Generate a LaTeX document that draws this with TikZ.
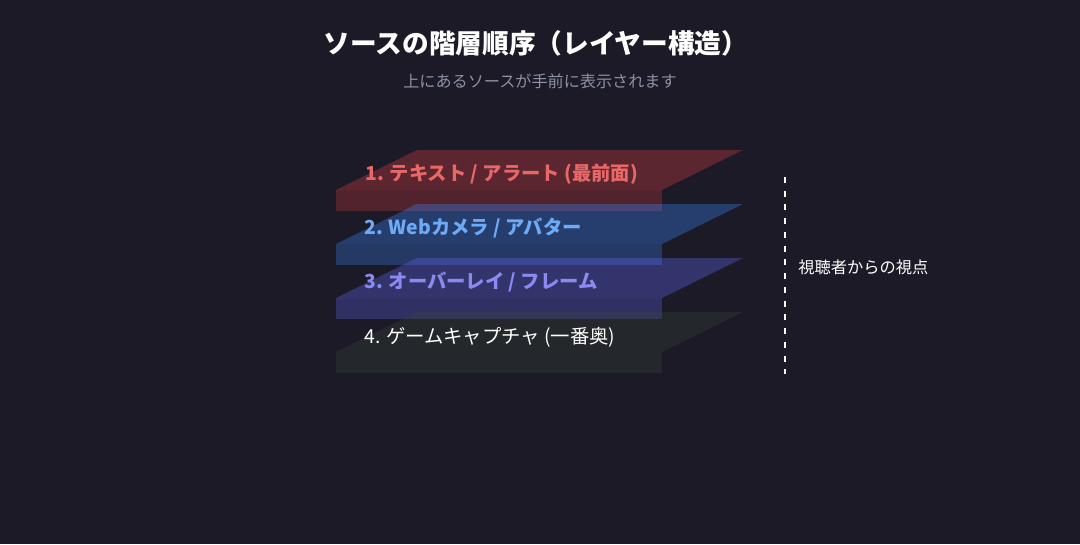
\documentclass[tikz,border=0pt]{standalone}
\usepackage{fontspec}
\setmainfont{Noto Sans CJK JP}
\usepackage{tikz}

\definecolor{bgdark}{RGB}{27,26,38}
\definecolor{subgray}{RGB}{140,145,165}
\definecolor{redlayer}{RGB}{239,68,68}
\definecolor{redtext}{RGB}{232,104,104}
\definecolor{bluelayer}{RGB}{59,130,246}
\definecolor{bluetext}{RGB}{110,170,245}
\definecolor{purplelayer}{RGB}{99,102,241}
\definecolor{purpletext}{RGB}{140,138,242}
\definecolor{graylayer}{RGB}{60,72,58}

\begin{document}
\begin{tikzpicture}[%
      x=0.75pt, y=-0.75pt,
      layertop/.style={draw=none, fill opacity=0.30},
      layerfront/.style={draw=none, fill opacity=0.26},
      layerlabel/.style={anchor=west, inner sep=0pt, font=\fontsize{14.5}{17}\selectfont\bfseries},
      ]
      \fill [color=bgdark] (0,0) rectangle (1080,544);
      \useasboundingbox (0,0) rectangle (1080,544);

      \node [text=white, font=\fontsize{20}{24}\selectfont\bfseries] (title) at (536,43) {ソースの階層順序（レイヤー構造）};
      \node [text=subgray, font=\fontsize{12.1}{14}\selectfont] (subtitle) at (540,81) {上にあるソースが手前に表示されます};

      \fill [layertop, fill=redlayer] (336,190) -- (417,150) -- (743,150) -- (662,190) -- cycle;
      \fill [layerfront, fill=redlayer] (336,190) rectangle (662,211);
      \node [layerlabel, text=redtext] (textlayer) at (365,174) {1. テキスト / アラート (最前面)};

      \fill [layertop, fill=bluelayer, fill opacity=0.35] (336,244) -- (417,204) -- (743,204) -- (662,244) -- cycle;
      \fill [layerfront, fill=bluelayer, fill opacity=0.30] (336,244) rectangle (662,265);
      \node [layerlabel, text=bluetext] (camlayer) at (364,228) {2. Webカメラ / アバター};

      \fill [layertop, fill=purplelayer, fill opacity=0.35] (336,298) -- (417,258) -- (743,258) -- (662,298) -- cycle;
      \fill [layerfront, fill=purplelayer, fill opacity=0.30] (336,298) rectangle (662,319);
      \node [layerlabel, text=purpletext] (overlaylayer) at (364,282) {3. オーバーレイ / フレーム};

      \fill [layertop, fill=graylayer] (336,352) -- (417,312) -- (743,312) -- (662,352) -- cycle;
      \fill [layertop, fill=graylayer] (336,352) rectangle (662,373);
      \node [layerlabel, text=white, font=\fontsize{14.5}{17}\selectfont] (gamelayer) at (364,337) {4. ゲームキャプチャ (一番奥)};

      \coordinate (eyetop) at (785,177);
      \coordinate (eyebot) at (785,374);
      \draw [color=white, line width=1.5pt, dash pattern=on 4.5pt off 5.8pt] (eyetop) -- (eyebot);
      \node [anchor=west, inner sep=0pt, text=white, font=\fontsize{12.2}{14}\selectfont] (viewer) at (798,267) {視聴者からの視点};
      \end{tikzpicture}
\end{document}
